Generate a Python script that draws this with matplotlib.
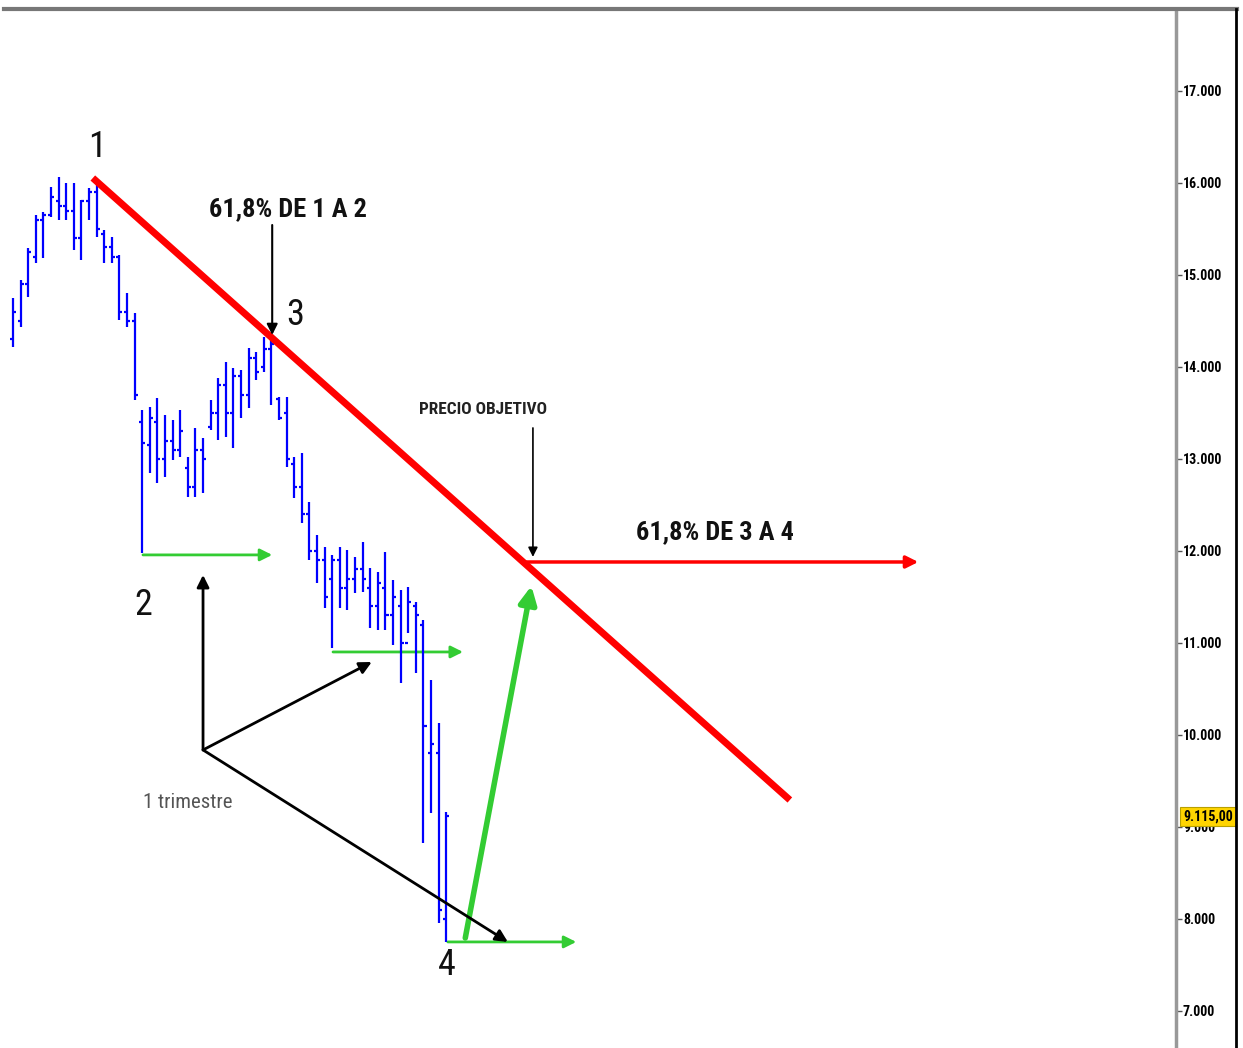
import matplotlib
matplotlib.use("Agg")
import matplotlib.pyplot as plt
from matplotlib.lines import Line2D
import matplotlib.transforms as mtransforms
from matplotlib import font_manager
import numpy as np

# ---------------- data (bar index, prices) ----------------
highs = [14750, 14946, 15293, 15652, 15685, 15957, 16065, 16000, 16000, 15815,
         15946, 16000, 15489, 15413, 15217, 14804, 14587, 13533, 13565, 13663,
         13478, 13424, 13533, 13022, 13337, 13228, 13641, 13880, 14054, 13989,
         13967, 14207, 14163, 14326, 14293, 13674, 13674, 13022, 13065, 12533,
         12174, 12043, 11957, 12043, 12011, 11935, 12098, 11815, 11772, 11989,
         11685, 11576, 11609, 11446, 11250, 10598, 10130, 9163]
lows = [14217, 14435, 14761, 15130, 15185, 15630, 15598, 15598, 15272, 15163,
        15598, 15413, 15130, 15130, 14511, 14435, 13641, 11978, 12848, 12739,
        12804, 12989, 13022, 12587, 12587, 12630, 13315, 13207, 13239, 13120,
        13446, 13554, 13859, 13946, 13587, 13424, 12913, 12576, 12304, 11902,
        11652, 11380, 10945, 11380, 11359, 11543, 11554, 11163, 11141, 11141,
        10978, 10565, 11109, 10674, 8826, 9152, 7956, 7750]
opens = [14300, 14500, 14900, 15200, 15600, 15650, 15800, 15750, 15700, 15400,
         15800, 15900, 15450, 15300, 15200, 14600, 14500, 13400, 13150, 13400,
         13000, 13200, 13100, 12900, 12700, 13100, 13350, 13500, 13800, 13500,
         13900, 13700, 14100, 14000, 14200, 13650, 13500, 12950, 12700, 12400,
         12000, 11900, 11700, 11900, 11600, 11700, 11800, 11600, 11400, 11600,
         11300, 11400, 11000, 11400, 11200, 9800, 9800, 8000]
closes = [14600, 14900, 15250, 15600, 15650, 15850, 15750, 15700, 15400, 15800,
          15900, 15500, 15300, 15200, 14600, 14500, 13700, 13170, 13450, 13000,
          13200, 13100, 13300, 12700, 13100, 13000, 13500, 13800, 13500, 13900,
          13700, 14100, 13950, 14200, 14250, 13450, 13000, 12700, 12400, 12000,
          11900, 11500, 11900, 11600, 11700, 11800, 11700, 11400, 11650, 11300,
          11500, 11000, 11450, 11300, 10100, 9900, 8100, 9115]

ytick_values = [7000, 8000, 9000, 10000, 11000, 12000, 13000, 14000, 15000, 16000, 17000]
ytick_labels = ["7.000", "8.000", "9.000", "10.000", "11.000", "12.000",
                "13.000", "14.000", "15.000", "16.000", "17.000"]
last_price = 9115
last_label = "9.115,00"

# annotation anchors (bar index, price)
trend_start = (10.5, 16054)
trend_end = (102.2, 9293)
target_price = 11880
target_x = 67.6
target_arrow_end_x = 119.1

names = {f.name for f in font_manager.fontManager.ttflist}
cands = ["Roboto Condensed", "Open Sans Condensed", "Liberation Sans Narrow",
         "DejaVu Sans Condensed", "Arial Narrow"]
narrow = [c for c in cands if c in names]
NARROW = (narrow[:1] or []) + ["DejaVu Sans"]
STRETCH = "condensed"

fig = plt.figure(figsize=(12.43, 10.48), dpi=100)
ax = fig.add_axes([0, 0, 1176 / 1243, 1 - 9 / 1048])
ax.set_xlim(-1.71, 153.0)
ax.set_ylim(6597, 17891)

# ---------------- OHLC bars ----------------
idx = np.arange(len(highs))
blue = "#0000FF"
ax.vlines(idx, lows, highs, color=blue, lw=1.6, zorder=3)
ax.hlines(opens, idx - 0.4, idx, color=blue, lw=1.6, zorder=3)
ax.hlines(closes, idx, idx + 0.4, color=blue, lw=1.6, zorder=3)

# ---------------- trend line & target ----------------
red = "#FF0000"
ax.plot([trend_start[0], trend_end[0]], [trend_start[1], trend_end[1]],
        color=red, lw=5, solid_capstyle="butt", zorder=4)
ax.annotate("", xy=(target_arrow_end_x, target_price), xytext=(target_x, target_price),
            arrowprops=dict(arrowstyle="-|>", color=red, lw=2.5, mutation_scale=18,
                            shrinkA=0, shrinkB=0), zorder=4)

# ---------------- green arrows ----------------
green = "#33CC33"
for (x0, x1, y) in [(17.1, 34.1, 11957), (42.1, 59.2, 10902), (57.2, 74.1, 7750)]:
    ax.annotate("", xy=(x1, y), xytext=(x0, y),
                arrowprops=dict(arrowstyle="-|>", color=green, lw=2.0, mutation_scale=18,
                                shrinkA=0, shrinkB=0), zorder=2)
ax.annotate("", xy=(68.2, 11620), xytext=(59.5, 7793),
            arrowprops=dict(arrowstyle="-|>", color=green, lw=4.0, mutation_scale=26,
                            shrinkA=0, shrinkB=0), zorder=5)

# ---------------- black arrows ----------------
origin = (25.0, 9837)
for tgt in [(25.0, 11739), (47.2, 10793), (65.1, 7750)]:
    ax.annotate("", xy=tgt, xytext=origin,
                arrowprops=dict(arrowstyle="-|>", color="black", lw=2.0, mutation_scale=18,
                                shrinkA=0, shrinkB=0), zorder=6)
ax.annotate("", xy=(34.1, 14348), xytext=(34.1, 15543),
            arrowprops=dict(arrowstyle="-|>", color="black", lw=1.5, mutation_scale=16,
                            shrinkA=0, shrinkB=0), zorder=6)
ax.annotate("", xy=(68.4, 11935), xytext=(68.4, 13337),
            arrowprops=dict(arrowstyle="-|>", color="black", lw=1.2, mutation_scale=14,
                            shrinkA=0, shrinkB=0), zorder=6)

# ---------------- texts ----------------
for s, x, y in [("1", 11.05, 16391), ("2", 17.1, 11413), ("3", 37.1, 14565), ("4", 57.1, 7500)]:
    ax.text(x, y, s, fontsize=26, family=NARROW, stretch=STRETCH,
            ha="center", va="center", color="#111111")
ax.text(36.2, 15717, "61,8% DE 1 A 2", fontsize=19, family=NARROW, stretch=STRETCH,
        fontweight="bold", ha="center", va="center", color="#111111")
ax.text(92.4, 12206, "61,8% DE 3 A 4", fontsize=19, family=NARROW, stretch=STRETCH,
        fontweight="bold", ha="center", va="center", color="#111111")
ax.text(61.8, 13533, "PRECIO OBJETIVO", fontsize=12.4, family=NARROW, stretch=STRETCH,
        fontweight="bold", ha="center", va="center", color="#222222")
ax.text(23.0, 9261, "1 trimestre", fontsize=15, family=NARROW, stretch=STRETCH,
        ha="center", va="center", color="#555555")

# ---------------- axes styling ----------------
for side in ["left", "top", "bottom"]:
    ax.spines[side].set_visible(False)
ax.spines["right"].set_color("#999999")
ax.spines["right"].set_linewidth(2.5)
ax.set_xticks([])
ax.yaxis.tick_right()
ax.set_yticks(ytick_values)
ax.set_yticklabels(ytick_labels)
for lab in ax.get_yticklabels():
    lab.set_fontsize(10)
    lab.set_family(NARROW)
    lab.set_stretch(STRETCH)
    lab.set_fontweight("bold")
ax.tick_params(axis="y", direction="out", length=4, width=1, color="#555555", pad=1)

trans = mtransforms.blended_transform_factory(ax.transAxes, ax.transData)
ax.text(1.006, last_price, last_label, transform=trans, fontsize=10, family=NARROW,
        stretch=STRETCH, fontweight="bold", ha="left", va="center", clip_on=False,
        bbox=dict(boxstyle="square,pad=0.2", fc="#FFD400", ec="#B8A000", lw=0.8), zorder=10)

fig.add_artist(Line2D([4 / 1243, 1237 / 1243], [1 - 9 / 1048] * 2, color="#777777", lw=3))
fig.add_artist(Line2D([1236 / 1243] * 2, [0, 1 - 9 / 1048], color="black", lw=2))

fig.savefig("out.png", dpi=100, facecolor="white")
